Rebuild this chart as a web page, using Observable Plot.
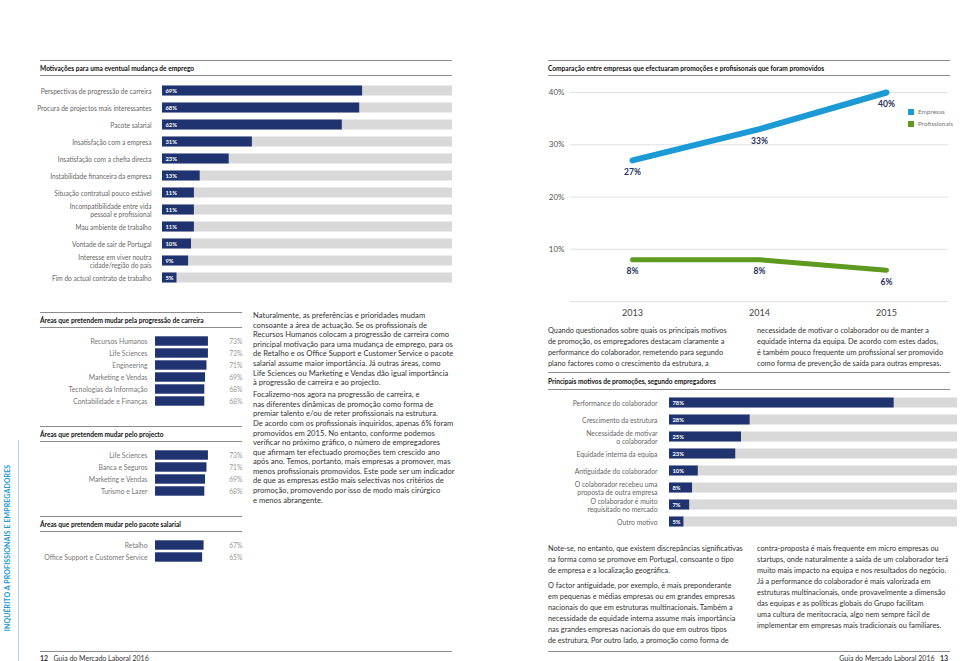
<!DOCTYPE html>
<html><head><meta charset="utf-8">
<script src="https://cdn.jsdelivr.net/npm/d3@7"></script>
<script src="https://cdn.jsdelivr.net/npm/@observablehq/plot@0.6"></script>
<style>
body{margin:0;background:#fff;font-family:Lato,"Open Sans",sans-serif;}
#page{position:relative;width:960px;height:661px;overflow:hidden;background:#fff}
.abs{position:absolute}
.rule{position:absolute;height:0;border-top:1px solid #8c8c8c}
.title{position:absolute;font-weight:bold;font-size:6.6px;line-height:8px;color:#111;white-space:nowrap}
.txt{position:absolute;font-size:7.65px;line-height:9.6px;color:#333;white-space:nowrap}
.txt p{margin:0 0 2.4px 0}
.txt2{position:absolute;font-size:7.35px;line-height:11px;color:#333;white-space:nowrap}
.txt2 p{margin:0 0 4px 0}
.plot{position:absolute}
.plot svg{display:block;overflow:visible}
.leg{position:absolute;font-size:6.4px;color:#777;white-space:nowrap;line-height:8px}
.leg i{display:inline-block;width:6px;height:6px;margin-right:4px;vertical-align:-1px}
.foot{position:absolute;font-size:7px;color:#333;white-space:nowrap;top:654px;line-height:8px}
</style></head><body><div id="page">

<!-- left page -->
<div class="rule" style="left:40px;top:60px;width:412px"></div>
<div class="title" style="left:40px;top:64px">Motivações para uma eventual mudança de emprego</div>
<div class="rule" style="left:40px;top:75px;width:412px"></div>
<div class="plot" id="c1" style="left:40px;top:80px"></div>

<div class="rule" style="left:40px;top:312px;width:202px"></div>
<div class="title" style="left:40px;top:316px">Áreas que pretendem mudar pela progressão de carreira</div>
<div class="rule" style="left:40px;top:327px;width:202px"></div>
<div class="plot" id="c3a" style="left:40px;top:335px"></div>

<div class="rule" style="left:40px;top:426px;width:202px"></div>
<div class="title" style="left:40px;top:430px">Áreas que pretendem mudar pelo projecto</div>
<div class="rule" style="left:40px;top:441px;width:202px"></div>
<div class="plot" id="c3b" style="left:40px;top:449px"></div>

<div class="rule" style="left:40px;top:516px;width:202px"></div>
<div class="title" style="left:40px;top:520px">Áreas que pretendem mudar pelo pacote salarial</div>
<div class="rule" style="left:40px;top:531px;width:202px"></div>
<div class="plot" id="c3c" style="left:40px;top:539px"></div>

<div class="txt" style="left:253px;top:311px">
<p>Naturalmente, as preferências e prioridades mudam<br>consoante a área de actuação. Se os profissionais de<br>Recursos Humanos colocam a progressão de carreira como<br>principal motivação para uma mudança de emprego, para os<br>de Retalho e os Office Support e Customer Service o pacote<br>salarial assume maior importância. Já outras áreas, como<br>Life Sciences ou Marketing e Vendas dão igual importância<br>à progressão de carreira e ao projecto.</p>
<p>Focalizemo-nos agora na progressão de carreira, e<br>nas diferentes dinâmicas de promoção como forma de<br>premiar talento e/ou de reter profissionais na estrutura.<br>De acordo com os profissionais inquiridos, apenas 6% foram<br>promovidos em 2015. No entanto, conforme podemos<br>verificar no próximo gráfico, o número de empregadores<br>que afirmam ter efectuado promoções tem crescido ano<br>após ano. Temos, portanto, mais empresas a promover, mas<br>menos profissionais promovidos. Este pode ser um indicador<br>de que as empresas estão mais selectivas nos critérios de<br>promoção, promovendo por isso de modo mais cirúrgico<br>e menos abrangente.</p>
</div>

<div class="abs" style="left:18px;top:440px;width:0;height:221px;border-left:1px solid #a9d6ef"></div>
<div class="abs" style="left:-98px;top:543px;width:210px;height:10px;transform:rotate(-90deg);transform-origin:50% 50%;font-size:7px;line-height:10px;font-weight:bold;color:#1b9ad6;text-align:center;white-space:nowrap;letter-spacing:0.1px">INQUÉRITO A PROFISSIONAIS E EMPREGADORES</div>

<div class="rule" style="left:40px;top:651px;width:412px"></div>
<div class="foot" style="left:40px"><b>12</b>&nbsp;&nbsp; Guia do Mercado Laboral 2016</div>

<!-- right page -->
<div class="rule" style="left:548px;top:60px;width:402px"></div>
<div class="title" style="left:548px;top:64px">Comparação entre empresas que efectuaram promoções e profisisonais que foram promovidos</div>
<div class="rule" style="left:548px;top:75px;width:402px"></div>
<div class="plot" id="c2" style="left:540px;top:80px"></div>
<div class="leg" style="left:908px;top:108px"><i style="background:#1b9ad6"></i>Empresas</div>
<div class="leg" style="left:908px;top:120px"><i style="background:#5e9a20"></i>Profissionais</div>

<div class="txt2" style="left:548px;top:325px">Quando questionados sobre quais os principais motivos<br>de promoção, os empregadores destacam claramente a<br>performance do colaborador, remetendo para segundo<br>plano factores como o crescimento da estrutura, a</div>
<div class="txt2" style="left:757px;top:325px">necessidade de motivar o colaborador ou de manter a<br>equidade interna da equipa. De acordo com estes dados,<br>é também pouco frequente um profissional ser promovido<br>como forma de prevenção de saída para outras empresas.</div>

<div class="rule" style="left:548px;top:372px;width:402px"></div>
<div class="title" style="left:548px;top:377px">Principais motivos de promoções, segundo empregadores</div>
<div class="rule" style="left:548px;top:389px;width:402px"></div>
<div class="plot" id="c4" style="left:548px;top:393px"></div>

<div class="txt2" style="left:548px;top:543px"><p>Note-se, no entanto, que existem discrepâncias significativas<br>na forma como se promove em Portugal, consoante o tipo<br>de empresa e a localização geográfica.</p><p>O factor antiguidade, por exemplo, é mais preponderante<br>em pequenas e médias empresas ou em grandes empresas<br>nacionais do que em estruturas multinacionais. Também a<br>necessidade de equidade interna assume mais importância<br>nas grandes empresas nacionais do que em outros tipos<br>de estrutura. Por outro lado, a promoção como forma de</p></div>
<div class="txt2" style="left:757px;top:543px">contra-proposta é mais frequente em micro empresas ou<br>startups, onde naturalmente a saída de um colaborador terá<br>muito mais impacto na equipa e nos resultados do negócio.<br>Já a performance do colaborador é mais valorizada em<br>estruturas multinacionais, onde provavelmente a dimensão<br>das equipas e as políticas globais do Grupo facilitam<br>uma cultura de meritocracia, algo nem sempre fácil de<br>implementar em empresas mais tradicionais ou familiares.</div>

<div class="rule" style="left:548px;top:651px;width:402px"></div>
<div class="foot" style="right:12px">Guia do Mercado Laboral 2016&nbsp;&nbsp; <b>13</b></div>

</div>
<script>
// ---------- data ----------
const motivLabels = ["Perspectivas de progressão de carreira","Procura de projectos mais interessantes","Pacote salarial","Insatisfação com a empresa","Insatisfação com a chefia directa","Instabilidade financeira da empresa","Situação contratual pouco estável","Incompatibilidade entre vida\npessoal e profissional","Mau ambiente de trabalho","Vontade de sair de Portugal","Interesse em viver noutra\ncidade/região do país","Fim do actual contrato de trabalho"];
const motivValues = [69,68,62,31,23,13,11,11,11,10,9,5];

const years = [2013,2014,2015];
const empresasValues = [27,33,40];
const profissionaisValues = [8,8,6];
const lineTicks = [10,20,30,40];

const carreiraLabels = ["Recursos Humanos","Life Sciences","Engineering","Marketing e Vendas","Tecnologias da Informação","Contabilidade e Finanças"];
const carreiraValues = [73,73,71,69,68,68];
const projectoLabels = ["Life Sciences","Banca e Seguros","Marketing e Vendas","Turismo e Lazer"];
const projectoValues = [73,71,69,68];
const salarioLabels = ["Retalho","Office Support e Customer Service"];
const salarioValues = [67,65];

const promoLabels = ["Performance do colaborador","Crescimento da estrutura","Necessidade de motivar\no colaborador","Equidade interna da equipa","Antiguidade do colaborador","O colaborador recebeu uma\nproposta de outra empresa","O colaborador é muito\nrequisitado no mercado","Outro motivo"];
const promoValues = [78,28,25,23,10,8,7,5];

const trackMax = 100;
const NAVY = "#1e3370", GREY = "#d9d9d9", BLUE = "#1b9ad6", GREEN = "#5e9a20";

// ---------- helpers ----------
function trackBars(labels, values, opt) {
  const data = labels.map((label, i) => ({label, value: values[i]}));
  return Plot.plot({
    width: opt.width, height: opt.height,
    marginLeft: opt.marginLeft, marginRight: opt.marginRight,
    marginTop: opt.marginTop, marginBottom: opt.marginBottom,
    style: {fontFamily: "Lato, 'Open Sans', sans-serif", color: "#666", background: "transparent"},
    x: {domain: [0, trackMax], axis: null},
    y: {domain: labels, padding: 0, axis: null},
    marks: [
      Plot.barX(data, {x1: 0, x2: () => trackMax, y: "label", fill: GREY, insetTop: opt.inset, insetBottom: opt.inset}),
      Plot.barX(data, {x: "value", y: "label", fill: NAVY, insetTop: opt.inset, insetBottom: opt.inset}),
      Plot.text(data, {x: 0, y: "label", text: d => d.value + "%", textAnchor: "start", dx: 3, fill: "white", fontWeight: "bold", fontSize: 5.8}),
      Plot.axisY({label: null, tickSize: 0, tickPadding: opt.pad, fontSize: opt.fontSize, lineHeight: 1.2})
    ]
  });
}

function smallBars(labels, values) {
  const data = labels.map((label, i) => ({label, value: values[i]}));
  return Plot.plot({
    width: 205, height: labels.length * 12,
    marginLeft: 115, marginRight: 3, marginTop: 0, marginBottom: 0,
    style: {fontFamily: "Lato, 'Open Sans', sans-serif", color: "#777", background: "transparent"},
    x: {domain: [0, 120], axis: null},
    y: {domain: labels, padding: 0, axis: null},
    marks: [
      Plot.barX(data, {x: "value", y: "label", fill: NAVY, insetTop: 1.3, insetBottom: 1.3}),
      Plot.text(data, {y: "label", text: d => d.value + "%", frameAnchor: "right", textAnchor: "end", fill: "#999", fontSize: 6.8}),
      Plot.axisY({label: null, tickSize: 0, tickPadding: 8, fontSize: 6.8})
    ]
  });
}

// ---------- chart 1 ----------
document.getElementById("c1").append(trackBars(motivLabels, motivValues, {
  width: 415, height: 206, marginLeft: 122, marginRight: 3, marginTop: 1.5, marginBottom: 0.5,
  inset: 3.5, pad: 11, fontSize: 6.6
}));

// ---------- chart 2 (lines) ----------
const lineData = [
  ...years.map((year, i) => ({year, series: "Empresas", value: empresasValues[i]})),
  ...years.map((year, i) => ({year, series: "Profissionais", value: profissionaisValues[i]}))
];
document.getElementById("c2").append(Plot.plot({
  width: 420, height: 241,
  marginLeft: 30, marginRight: 12, marginTop: 12, marginBottom: 20,
  style: {fontFamily: "Lato, 'Open Sans', sans-serif", color: "#555", background: "transparent"},
  x: {type: "point", domain: years, padding: 0.48, axis: null},
  y: {domain: [0, 40], axis: null},
  marks: [
    Plot.ruleY([0, ...lineTicks], {stroke: "#e2e2e2", strokeWidth: 1}),
    Plot.line(lineData.filter(d => d.series === "Empresas"), {x: "year", y: "value", stroke: BLUE, strokeWidth: 6, strokeLinecap: "round", strokeLinejoin: "round"}),
    Plot.line(lineData.filter(d => d.series === "Profissionais"), {x: "year", y: "value", stroke: GREEN, strokeWidth: 5, strokeLinecap: "round", strokeLinejoin: "round"}),
    Plot.text(lineData, {x: "year", y: "value", text: d => d.value + "%", dy: 12, fill: "#25305c", fontWeight: "bold", fontSize: 8.5}),
    Plot.axisY({label: null, ticks: lineTicks, tickFormat: d => d + "%", tickSize: 0, tickPadding: 6, fontSize: 8, fill: "#555"}),
    Plot.axisX({label: null, tickSize: 0, tickPadding: 8, fontSize: 9, fill: "#444", tickFormat: d => String(d)})
  ]
}));

// ---------- small charts ----------
document.getElementById("c3a").append(smallBars(carreiraLabels, carreiraValues));
document.getElementById("c3b").append(smallBars(projectoLabels, projectoValues));
document.getElementById("c3c").append(smallBars(salarioLabels, salarioValues));

// ---------- chart 4 ----------
document.getElementById("c4").append(trackBars(promoLabels, promoValues, {
  width: 410, height: 137, marginLeft: 121, marginRight: 1, marginTop: 0.5, marginBottom: 0.5,
  inset: 3.5, pad: 12, fontSize: 6.8
}));
</script>
</body></html>
